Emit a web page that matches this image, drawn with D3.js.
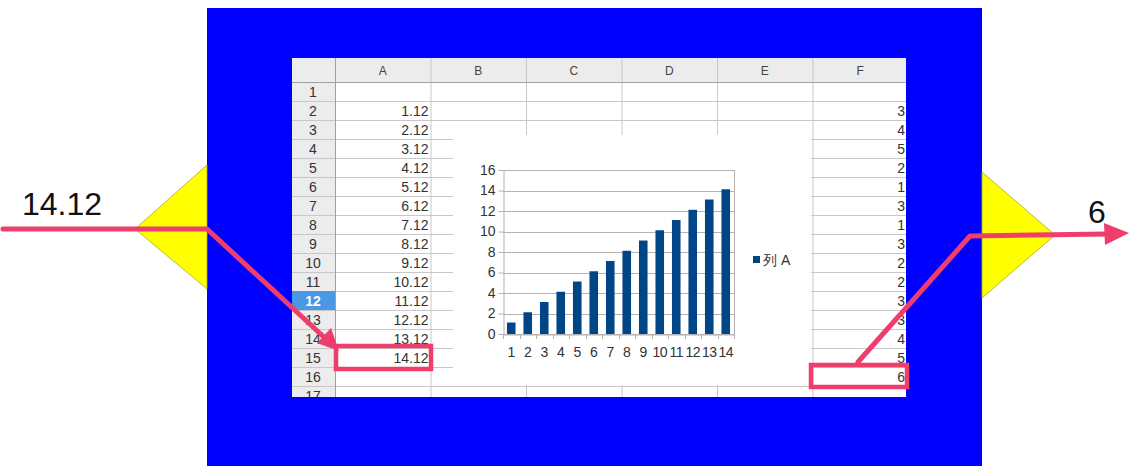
<!DOCTYPE html>
<html><head><meta charset="utf-8">
<script src="https://cdn.jsdelivr.net/npm/d3@7"></script>
<style>
html,body{margin:0;padding:0;background:#fff;}
svg{display:block;}
text{font-family:"Liberation Sans",Arial,sans-serif;}
</style></head>
<body>
<svg id="c" width="1129" height="466"></svg>
<script>
// ---- data ----
const categories = [1,2,3,4,5,6,7,8,9,10,11,12,13,14];
const seriesA = [1.12,2.12,3.12,4.12,5.12,6.12,7.12,8.12,9.12,10.12,11.12,12.12,13.12,14.12];
const seriesName = "列 A";
const yTicks = [0,2,4,6,8,10,12,14,16];
const columnLetters = ["A","B","C","D","E","F"];
const rowNumbers = [1,2,3,4,5,6,7,8,9,10,11,12,13,14,15,16,17];
const columnAValues = ["1.12","2.12","3.12","4.12","5.12","6.12","7.12","8.12","9.12","10.12","11.12","12.12","13.12","14.12"];
const columnFValues = [3,4,5,2,1,3,1,3,2,2,3,3,4,5,6];
const leftLabel = "14.12";
const rightLabel = "6";

const svg = d3.select("#c");
const pink = "#ef3d6c";

// blue frame
svg.append("rect").attr("x",207).attr("y",8).attr("width",775).attr("height",470).attr("fill","#0000ff");

// yellow triangles
svg.append("path").attr("d","M207,165 L135,229 L207,289 Z").attr("fill","#ffff00").attr("stroke","#a8a830").attr("stroke-width",0.8);
svg.append("path").attr("d","M982,172 L1055,235 L982,298 Z").attr("fill","#ffff00").attr("stroke","#a8a830").attr("stroke-width",0.8);

// ---- spreadsheet ----
const sheetL = 292, sheetT = 58, sheetR = 906, sheetB = 397;
const sheet = svg.append("g");
const clip = svg.append("clipPath").attr("id","sheetclip");
clip.append("rect").attr("x",sheetL).attr("y",sheetT).attr("width",sheetR-sheetL).attr("height",sheetB-sheetT);
sheet.attr("clip-path","url(#sheetclip)");
sheet.append("rect").attr("x",sheetL).attr("y",sheetT).attr("width",sheetR-sheetL).attr("height",sheetB-sheetT).attr("fill","#fff");

const colX = d3.scaleBand().domain(columnLetters).range([335, 335+95.5*6]);
const rowY = d3.scaleBand().domain(rowNumbers).range([82, 82+19*rowNumbers.length]);

// header row
sheet.append("rect").attr("x",sheetL).attr("y",sheetT).attr("width",sheetR-sheetL).attr("height",24).attr("fill","#ececec");
sheet.append("rect").attr("x",sheetL).attr("y",sheetT).attr("width",43).attr("height",sheetB-sheetT).attr("fill","#ececec");
// grid lines
rowNumbers.forEach(r=>{
  const y = rowY(r)+19;
  sheet.append("line").attr("x1",sheetL).attr("x2",sheetR).attr("y1",y+0.5).attr("y2",y+0.5).attr("stroke","#c8c8c8");
});
columnLetters.forEach(c=>{
  const x = colX(c)+colX.bandwidth();
  sheet.append("line").attr("x1",x+0.5).attr("x2",x+0.5).attr("y1",sheetT).attr("y2",sheetB).attr("stroke","#c8c8c8");
});
sheet.append("line").attr("x1",335.5).attr("x2",335.5).attr("y1",sheetT).attr("y2",sheetB).attr("stroke","#a0a0a0");
sheet.append("line").attr("x1",sheetL).attr("x2",sheetR).attr("y1",82.5).attr("y2",82.5).attr("stroke","#a0a0a0");
// column headers
sheet.selectAll("text.ch").data(columnLetters).join("text")
  .attr("x",d=>colX(d)+colX.bandwidth()/2).attr("y",75).attr("text-anchor","middle")
  .attr("font-size",12).attr("fill","#444").text(d=>d);
// row headers
sheet.append("rect").attr("x",sheetL).attr("y",rowY(12)).attr("width",43).attr("height",19).attr("fill","#4a97e6");
sheet.selectAll("text.rh").data(rowNumbers).join("text")
  .attr("x",313).attr("y",d=>rowY(d)+15).attr("text-anchor","middle")
  .attr("font-size",14).attr("fill",d=>d===12?"#ffffff":"#333")
  .attr("font-weight",d=>d===12?"bold":"normal").text(d=>d);
// column A values
sheet.selectAll("text.va").data(columnAValues).join("text")
  .attr("x",colX("A")+colX.bandwidth()-2).attr("y",(d,i)=>rowY(i+2)+15).attr("text-anchor","end")
  .attr("font-size",14).attr("fill","#333").text(d=>d);
// column F values
sheet.selectAll("text.vf").data(columnFValues).join("text")
  .attr("x",sheetR-1).attr("y",(d,i)=>rowY(i+2)+15).attr("text-anchor","end")
  .attr("font-size",14).attr("fill","#333").text(d=>d);

// ---- embedded chart ----
sheet.append("rect").attr("x",453).attr("y",135).attr("width",358).attr("height",250).attr("fill","#fff");
const x = d3.scaleBand().domain(categories).range([503,734]).paddingInner(0.48).paddingOuter(0.24);
const y = d3.scaleLinear().domain([0,16]).range([334,170]);
const chart = svg.append("g");
// gridlines
chart.selectAll("line.g").data(yTicks).join("line")
  .attr("x1",503).attr("x2",734).attr("y1",d=>Math.round(y(d))+0.5).attr("y2",d=>Math.round(y(d))+0.5)
  .attr("stroke","#b3b3b3");
chart.append("line").attr("x1",734.5).attr("x2",734.5).attr("y1",y(16)).attr("y2",y(0)).attr("stroke","#b3b3b3");
// bars
chart.selectAll("rect.b").data(seriesA).join("rect")
  .attr("x",(d,i)=>x(categories[i])).attr("width",x.bandwidth())
  .attr("y",d=>y(d)).attr("height",d=>y(0)-y(d)).attr("fill","#004586");
// y axis
const ya = chart.append("g").attr("transform","translate(503.5,0)")
  .call(d3.axisLeft(y).tickValues(yTicks).tickSize(5).tickPadding(3));
ya.select(".domain").attr("stroke","#b3b3b3");
ya.selectAll(".tick line").attr("stroke","#b3b3b3");
ya.selectAll("text").attr("font-size",14).attr("fill","#333").attr("font-family","Liberation Sans, Arial, sans-serif");
// x axis
const xa = chart.append("g").attr("transform",`translate(0,${Math.round(y(0))+0.5})`)
  .call(d3.axisBottom(x).tickSize(0).tickPadding(13));
xa.select(".domain").attr("stroke","#b3b3b3");
xa.selectAll("text").attr("font-size",14).attr("fill","#333").attr("letter-spacing","-0.5").attr("font-family","Liberation Sans, Arial, sans-serif");
// category separator ticks
const step = x.step();
chart.selectAll("line.xt").data(d3.range(categories.length+1)).join("line")
  .attr("x1",d=>Math.round(503+d*step)+0.5).attr("x2",d=>Math.round(503+d*step)+0.5)
  .attr("y1",y(0)).attr("y2",y(0)+5).attr("stroke","#b3b3b3");
// legend
chart.append("rect").attr("x",753).attr("y",256).attr("width",7).attr("height",7).attr("fill","#004586");
chart.append("text").attr("x",763).attr("y",265).attr("font-size",14).attr("fill","#333")
  .attr("font-family","'Noto Sans CJK SC','Liberation Sans',sans-serif").text(seriesName);

// ---- pink annotations ----
const ann = svg.append("g");
ann.append("rect").attr("x",336).attr("y",346).attr("width",95).attr("height",23)
  .attr("fill","none").attr("stroke",pink).attr("stroke-width",4.5);
ann.append("rect").attr("x",811).attr("y",365).attr("width",96).attr("height",22)
  .attr("fill","none").attr("stroke",pink).attr("stroke-width",4.5);
ann.append("path").attr("d","M3,229 L207,229 L326,339").attr("fill","none")
  .attr("stroke",pink).attr("stroke-width",5).attr("stroke-linecap","round").attr("stroke-linejoin","round");
ann.append("path").attr("d","M339,351 L317,343 L331,328 Z").attr("fill",pink);
ann.append("path").attr("d","M858,362 L970,236 L1106,234").attr("fill","none")
  .attr("stroke",pink).attr("stroke-width",5).attr("stroke-linecap","round").attr("stroke-linejoin","round");
ann.append("path").attr("d","M1129,233 L1104,223 L1105,245 Z").attr("fill",pink);

svg.append("text").attr("x",22).attr("y",215).attr("font-size",32).attr("fill","#111").text(leftLabel);
svg.append("text").attr("x",1088).attr("y",223).attr("font-size",32).attr("fill","#111").text(rightLabel);
</script>
</body></html>
